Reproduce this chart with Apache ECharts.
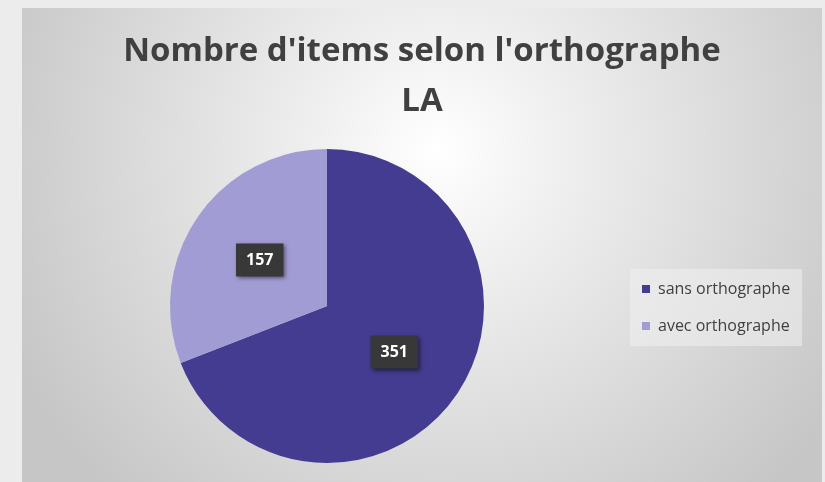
<!DOCTYPE html>
<html>
<head>
<meta charset="utf-8">
<script src="https://cdn.jsdelivr.net/npm/echarts@6/dist/echarts.min.js"></script>
<style>
  html, body { margin: 0; padding: 0; background: #ececec; }
  #chart { position: absolute; left: 22px; top: 8px; width: 800px; height: 474px; }
</style>
</head>
<body>
<div id="chart"></div>
<script>
  // donnees
  const categories = ['sans orthographe', 'avec orthographe']
  const values = [351, 157]
  const colors = ['#443c90', '#a29cd5']

  const chart = echarts.init(document.getElementById('chart'))
  const option = {
    backgroundColor: {
      type: 'radial', x: 0.52, y: 0.3, r: 1.0,
      colorStops: [
        { offset: 0, color: '#ffffff' },
        { offset: 0.25, color: '#f0f0f0' },
        { offset: 1, color: '#c6c6c6' }
      ]
    },
    title: {
      text: "Nombre d'items selon l'orthographe\nLA",
      left: 'center',
      top: 14,
      textStyle: {
        fontFamily: 'Open Sans',
        fontWeight: 'bold',
        fontSize: 33,
        lineHeight: 50,
        color: '#404040'
      }
    },
    legend: {
      orient: 'vertical',
      left: 608,
      top: 261,
      padding: [12, 12, 12, 12],
      itemGap: 21,
      itemWidth: 8,
      itemHeight: 8,
      icon: 'rect',
      backgroundColor: 'rgba(240,240,240,0.55)',
      data: categories,
      textStyle: { fontFamily: 'Open Sans', fontSize: 16, color: '#404040', padding: [0, 0, 0, 3] }
    },
    color: colors,
    series: [{
      type: 'pie',
      center: [305, 298],
      radius: 157,
      startAngle: 90,
      clockwise: true,
      silent: true,
      data: categories.map((c, i) => ({ name: c, value: values[i] })),
      label: {
        show: true,
        position: 'inside',
        formatter: '{c}',
        fontFamily: 'Open Sans',
        fontWeight: 'bold',
        fontSize: 16,
        color: '#ffffff',
        backgroundColor: '#383838',
        padding: [9, 10, 8, 10],
        shadowColor: 'rgba(0,0,0,0.5)',
        shadowBlur: 4,
        shadowOffsetX: 2,
        shadowOffsetY: 2
      },
      labelLine: { show: false }
    }]
  }
  chart.setOption(option)
</script>
</body>
</html>
